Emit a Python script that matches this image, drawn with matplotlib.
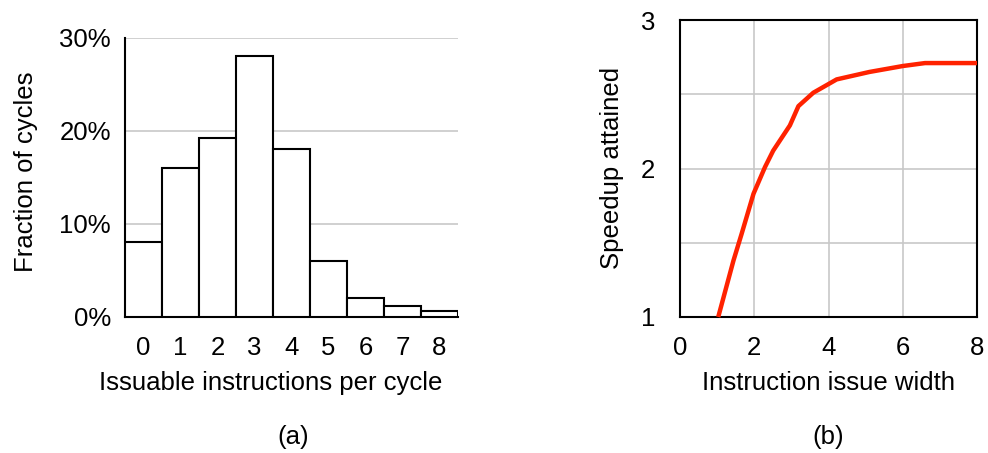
import matplotlib
matplotlib.use("Agg")
import matplotlib.pyplot as plt
from matplotlib.ticker import FuncFormatter

plt.rcParams['font.family'] = ['Liberation Sans', 'DejaVu Sans']

# (a) distribution of issuable instructions per cycle
issuable = [0, 1, 2, 3, 4, 5, 6, 7, 8]
fraction = [8, 16, 19.2, 28, 18, 6, 2, 1.2, 0.6]   # percent of cycles

# (b) speedup vs. issue width
issue_width = [1.03, 1.44, 1.66, 1.98, 2.29, 2.51, 2.96, 3.19, 3.59, 4.22, 5.1, 6.0, 6.6, 8.0]
speedup = [1.0, 1.38, 1.56, 1.83, 2.01, 2.12, 2.29, 2.42, 2.51, 2.60, 2.65, 2.69, 2.71, 2.71]

W, H = 988, 453
fig = plt.figure(figsize=(W / 100, H / 100), dpi=100)

def px_axes(x0, x1, ytop, ybot):
    return fig.add_axes([x0 / W, 1 - ybot / H, (x1 - x0) / W, (ybot - ytop) / H])

grid_c = "#c8c8c8"
tick_fs = 18.5
lab_fs = 18.5

# ---- left panel
ax1 = px_axes(125, 458, 37.5, 317)
ax1.bar(issuable, fraction, width=1.0, color="white", edgecolor="black", linewidth=1.5, zorder=3)
ax1.set_xlim(-0.5, 8.5)
ax1.set_ylim(0, 30)
ax1.set_yticks([0, 10, 20, 30])
ax1.yaxis.set_major_formatter(FuncFormatter(lambda v, p: f"{v:.0f}%"))
ax1.set_xticks(issuable)
ax1.grid(axis="y", color=grid_c, linewidth=1.2, zorder=0)
ax1.set_axisbelow(True)
for s in ["top", "right"]:
    ax1.spines[s].set_visible(False)
for s in ["left", "bottom"]:
    ax1.spines[s].set_linewidth(1.5)
ax1.tick_params(length=0, labelsize=tick_fs)
ax1.tick_params(axis="y", pad=10)
ax1.tick_params(axis="x", pad=14)
ax1.set_xlabel("Issuable instructions per cycle", fontsize=lab_fs, va="center")
ax1.xaxis.set_label_coords((271 - 125) / 333, (317 - 383) / 279.5)
ax1.set_ylabel("Fraction of cycles", fontsize=lab_fs, va="center")
ax1.yaxis.set_label_coords((26 - 125) / 333, (317 - 172) / 279.5)

# ---- right panel
ax2 = px_axes(680, 977, 20, 317)
ax2.plot(issue_width, speedup, color="#ff2200", linewidth=3.2, solid_capstyle="butt",
         clip_on=False, zorder=3)
ax2.set_xlim(0, 8)
ax2.set_ylim(1, 3)
ax2.set_xticks([0, 2, 4, 6, 8])
ax2.set_yticks([1, 2, 3])
ax2.set_yticks([1.5, 2.5], minor=True)
ax2.grid(which="both", color=grid_c, linewidth=1.2, zorder=0)
ax2.set_axisbelow(True)
for s in ax2.spines.values():
    s.set_linewidth(1.5)
ax2.tick_params(which="both", length=0, labelsize=tick_fs)
ax2.tick_params(axis="y", pad=18)
ax2.tick_params(axis="x", pad=14)
ax2.set_xlabel("Instruction issue width", fontsize=lab_fs, va="center")
ax2.xaxis.set_label_coords(0.5, (317 - 383) / 297)
ax2.set_ylabel("Speedup attained", fontsize=lab_fs, va="center")
ax2.yaxis.set_label_coords((612 - 680) / 297, (317 - 168) / 297)

fig.text(293 / W, 1 - 437 / H, "(a)", fontsize=tick_fs, ha="center", va="center")
fig.text(828 / W, 1 - 437 / H, "(b)", fontsize=tick_fs, ha="center", va="center")

fig.savefig("out.png", dpi=100)
